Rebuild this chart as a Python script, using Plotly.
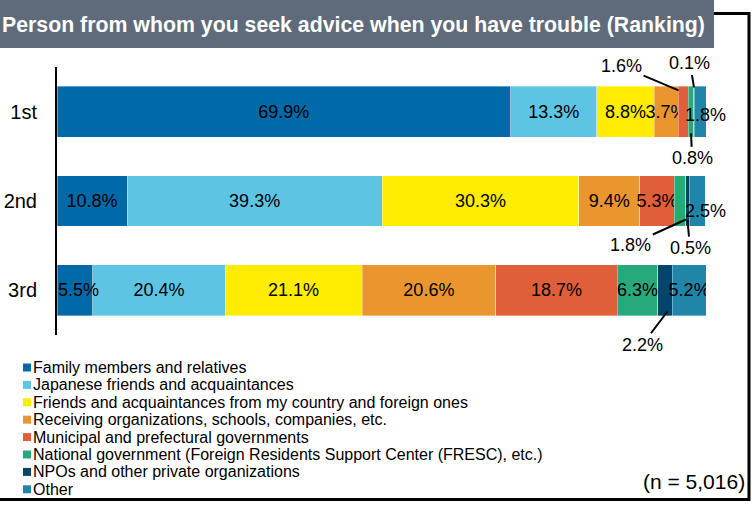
import plotly.graph_objects as go

# ---- data -------------------------------------------------------------
ranks = ["1st", "2nd", "3rd"]
categories = [
    "Family members and relatives",
    "Japanese friends and acquaintances",
    "Friends and acquaintances from my country and foreign ones",
    "Receiving organizations, schools, companies, etc.",
    "Municipal and prefectural governments",
    "National government (Foreign Residents Support Center (FRESC), etc.)",
    "NPOs and other private organizations",
    "Other",
]
family = [69.9, 10.8, 5.5]
japanese = [13.3, 39.3, 20.4]
friends = [8.8, 30.3, 21.1]
receiving = [3.7, 9.4, 20.6]
municipal = [1.6, 5.3, 18.7]
national = [0.8, 1.8, 6.3]
npo = [0.1, 0.5, 2.2]
other = [1.8, 2.5, 5.2]
sample_note = "(n = 5,016)"
title_text = "Person from whom you seek advice when you have trouble (Ranking)"

series = [family, japanese, friends, receiving, municipal, national, npo, other]
colors = ["#006aa8", "#5ec4e3", "#ffec00", "#eb952f",
          "#e05e38", "#28a97b", "#00456b", "#1f86aa"]

# ---- layout geometry (pixels) -----------------------------------------
W, H = 752, 506
L, T = 57, 67            # plot area top-left
PW, PH = 649, 268        # plot area size
BAR_W = 0.569
UNIT = PH / 3.0          # pixels per category step

FONT = "Liberation Sans, Arial, sans-serif"
LABEL_SIZE = 18


def px_x(p):
    return (p - L) / PW


def px_y(p):
    return (T + PH - p) / PH


# small segments labelled outside with a leader line:
# (series, rank) -> (fraction along segment, tip offset from bar centre px, text dx, text dy)
leader = {
    (4, 0): (0.05, -21.3, -57, -24),
    (6, 0): (0.5, -24.3, -4, -24),
    (5, 0): (0.5, 21.7, 1, 25),
    (5, 1): (1.0, 18.5, -55, 25),
    (6, 1): (0.5, 19.2, 2.5, 28),
    (6, 2): (0.65, 21.4, -25, 33),
}
# labels nudged off the segment centre: (series, rank) -> (dx, dy) px
nudged = {
    (7, 0): (5.5, 3.5),
    (7, 1): (8, 10),
    (0, 2): (3.5, 0),
}

fig = go.Figure()

cum = [0.0, 0.0, 0.0]
starts = []
for k, (name, vals, col) in enumerate(zip(categories, series, colors)):
    starts.append(list(cum))
    tmpl = ["" if (k, r) in leader or (k, r) in nudged else "%{x:.1f}%"
            for r in range(3)]
    fig.add_trace(go.Bar(
        y=[0, 1, 2], x=vals, orientation="h", name=name,
        marker=dict(color=col, line=dict(color="rgba(255,255,255,0.6)", width=0.6)),
        width=BAR_W,
        texttemplate=tmpl, textposition="inside", insidetextanchor="middle",
        constraintext="none", textangle=0,
        textfont=dict(family=FONT, size=LABEL_SIZE, color="black"),
        showlegend=False, hoverinfo="skip",
    ))
    cum = [c + v for c, v in zip(cum, vals)]

annotations = []

# outside labels with leader lines
for (k, r), (frac, tip_dy, dx, dy) in leader.items():
    v = series[k][r]
    annotations.append(dict(
        x=starts[k][r] + frac * v, y=r + tip_dy / UNIT, xref="x", yref="y",
        text=f"{v:.1f}%", showarrow=True, arrowhead=0, arrowwidth=2,
        arrowcolor="black", ax=dx, ay=dy, axref="pixel", ayref="pixel",
        font=dict(family=FONT, size=LABEL_SIZE, color="black"),
    ))

# nudged labels
for (k, r), (dx, dy) in nudged.items():
    v = series[k][r]
    annotations.append(dict(
        x=starts[k][r] + v / 2, y=r, xref="x", yref="y",
        text=f"{v:.1f}%", showarrow=False, xshift=dx, yshift=-dy,
        font=dict(family=FONT, size=LABEL_SIZE, color="black"),
    ))

# title banner text
annotations.append(dict(
    x=px_x(0), y=px_y(24.5), xref="paper", yref="paper",
    xanchor="left", yanchor="middle", showarrow=False, text=title_text,
    font=dict(family=FONT, size=21.3, color="white", weight="bold"),
))

# legend entries
shapes = []
ROW0, ROW_STEP = 367.5, 17.4
for i, (name, col) in enumerate(zip(categories, colors)):
    cy = ROW0 + i * ROW_STEP
    shapes.append(dict(
        type="rect", xref="paper", yref="paper",
        x0=px_x(23), x1=px_x(31), y0=px_y(cy + 4), y1=px_y(cy - 4),
        fillcolor=col, line=dict(width=0), layer="above",
    ))
    annotations.append(dict(
        x=px_x(31), y=px_y(cy), xref="paper", yref="paper",
        xanchor="left", yanchor="middle", showarrow=False, text=name,
        font=dict(family=FONT, size=16, color="black"),
    ))

# sample size note
annotations.append(dict(
    x=px_x(747), y=px_y(481), xref="paper", yref="paper",
    xanchor="right", yanchor="middle", showarrow=False, text=sample_note,
    font=dict(family=FONT, size=21, color="black"),
))

# outer frame, then the banner drawn over its top-left part
frame = dict(type="rect", xref="paper", yref="paper",
             x0=px_x(-6), x1=px_x(749), y0=px_y(499.5), y1=px_y(13.5),
             line=dict(color="black", width=3), fillcolor="rgba(0,0,0,0)",
             layer="below")
banner = dict(type="rect", xref="paper", yref="paper",
              x0=px_x(-6), x1=px_x(714), y0=px_y(48), y1=px_y(-6),
              line=dict(width=0), fillcolor="#5f6b7a", layer="below")
shapes = [frame, banner] + shapes

fig.update_layout(
    width=W, height=H,
    margin=dict(l=L, r=W - L - PW, t=T, b=H - T - PH, pad=0,
                autoexpand=False),
    barmode="stack",
    plot_bgcolor="white", paper_bgcolor="white",
    font=dict(family=FONT, color="black"),
    xaxis=dict(range=[0, 100], visible=False, fixedrange=True,
               automargin=False),
    yaxis=dict(
        range=[2.5, -0.5], tickvals=[0, 1, 2], ticktext=ranks,
        tickfont=dict(family=FONT, size=20, color="black"),
        showline=True, linecolor="black", linewidth=2,
        showgrid=False, zeroline=False, ticks="", ticklabelstandoff=14,
        fixedrange=True, automargin=False,
    ),
    shapes=shapes,
    annotations=annotations,
)

fig.write_html("out.html")
